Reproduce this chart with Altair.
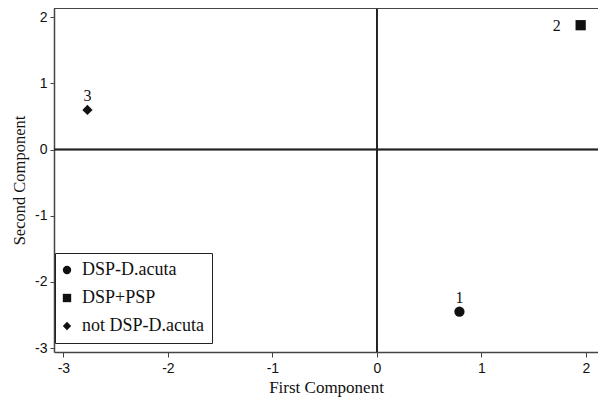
import altair as alt
import pandas as pd

# data
point_ids = ["1", "2", "3"]
groups = ["DSP-D.acuta", "DSP+PSP", "not DSP-D.acuta"]
first_component = [0.79, 1.95, -2.77]
second_component = [-2.45, 1.88, 0.60]
x_ticks = [-3, -2, -1, 0, 1, 2]
y_ticks = [-3, -2, -1, 0, 1, 2]

df = pd.DataFrame({
    "id": point_ids,
    "group": groups,
    "x": first_component,
    "y": second_component,
})

XDOM = [-3.09, 2.116]
YDOM = [-3.06, 2.14]
W, H = 544, 344

xscale = alt.Scale(domain=XDOM, nice=False, zero=False)
yscale = alt.Scale(domain=YDOM, nice=False, zero=False)

xaxis = alt.Axis(
    values=x_ticks, title="First Component", grid=False,
    labelExpr="'' + datum.value",
    labelFont="Liberation Sans", labelFontSize=14, labelColor="#111",
    titleFont="Liberation Serif", titleFontSize=17, titleFontWeight="normal",
    titleColor="#111", titlePadding=4,
    domainColor="#444", domainWidth=1.5, tickColor="#444", tickSize=5,
    labelPadding=4,
)
yaxis = alt.Axis(
    values=y_ticks, title="Second Component", grid=False,
    labelExpr="'' + datum.value",
    labelFont="Liberation Sans", labelFontSize=14, labelColor="#111",
    titleFont="Liberation Serif", titleFontSize=16.5, titleFontWeight="normal",
    titleColor="#111", titlePadding=7,
    domainColor="#444", domainWidth=1.5, tickColor="#444", tickSize=4,
    labelPadding=3,
)

base = alt.Chart(df)

points = base.mark_point(filled=True, opacity=1, color="#111", size=105).encode(
    x=alt.X("x:Q", scale=xscale, axis=xaxis),
    y=alt.Y("y:Q", scale=yscale, axis=yaxis),
    shape=alt.Shape(
        "group:N",
        scale=alt.Scale(domain=groups, range=["circle", "square", "diamond"]),
        legend=alt.Legend(
            title=None, orient="none", legendX=1, legendY=245,
            labelFont="Liberation Serif", labelFontSize=18, labelColor="#111",
            symbolFillColor="#111", symbolStrokeColor="#111", symbolSize=70,
            symbolOffset=-5,
            strokeColor="#222", fillColor="white", padding=8,
            rowPadding=10, labelOffset=6, labelLimit=300,
        ),
    ),
)

vline = alt.Chart(df).mark_rule(color="#222", strokeWidth=1.6).encode(x=alt.datum(0))
hline = alt.Chart(df).mark_rule(color="#222", strokeWidth=1.6).encode(y=alt.datum(0))
top_line = alt.Chart(df).mark_rule(color="#444", strokeWidth=1.5).encode(
    x=alt.value(0), x2=alt.value(W), y=alt.value(0)
)

label_style = dict(font="Liberation Serif", fontSize=16, color="#111")
lab_above = base.transform_filter("datum.id != '2'").mark_text(
    dy=-14, **label_style
).encode(x="x:Q", y="y:Q", text="id:N")
lab_left = base.transform_filter("datum.id == '2'").mark_text(
    dx=-24, dy=1, **label_style
).encode(x="x:Q", y="y:Q", text="id:N")

chart = alt.layer(vline, hline, top_line, points, lab_above, lab_left).properties(
    width=W, height=H,
    autosize=alt.AutoSizeParams(type="none"),
    padding={"left": 46, "top": 0, "right": 0, "bottom": 46},
).configure_view(stroke=None).configure(background="white")

chart.save("out.html", embed_options={"renderer": "svg", "actions": False})
